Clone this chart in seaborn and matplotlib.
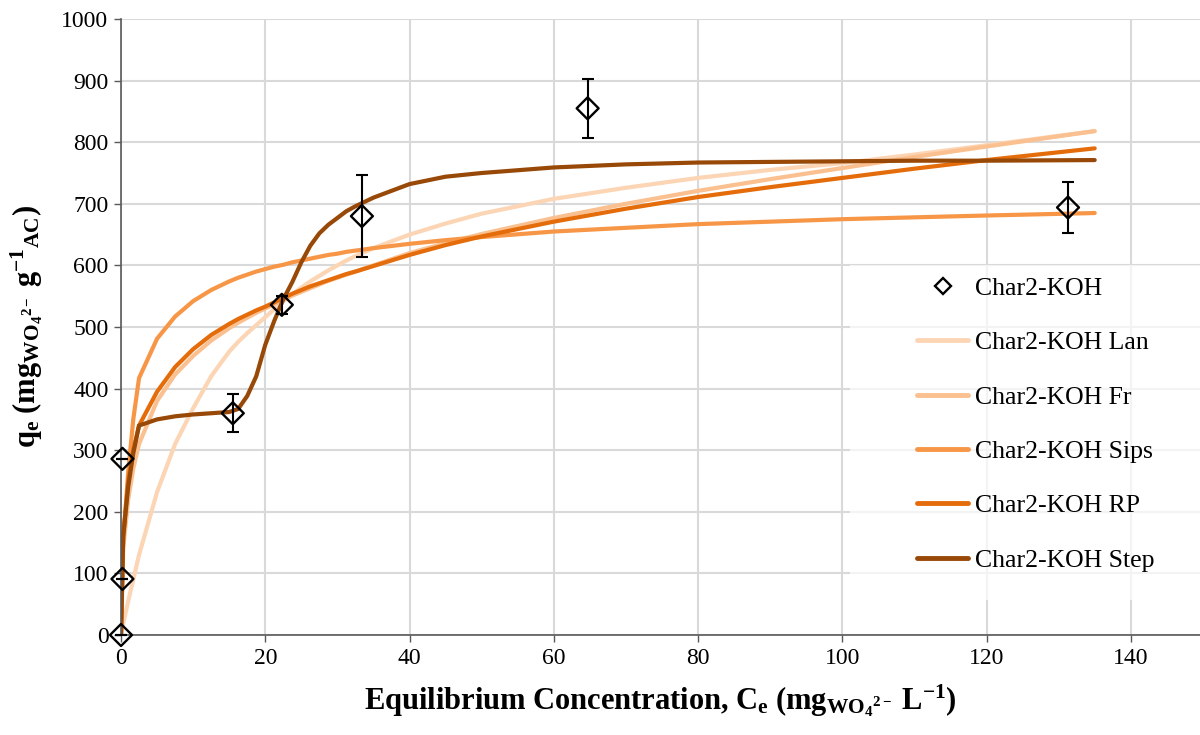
import matplotlib
matplotlib.use("Agg")
import matplotlib.pyplot as plt
from matplotlib.lines import Line2D
from matplotlib.patches import Rectangle
import seaborn as sns
import pandas as pd

# Measured equilibrium data (Char2-KOH)
ce_data = [0.0, 0.2, 0.2, 15.5, 22.3, 33.4, 64.7, 131.3]
qe_data = [0, 91, 286, 360, 536, 680, 855, 694]
qe_err = [0, 0, 0, 31, 15, 67, 48, 41]

# Fitted isotherm curves
ce_fit = [0, 0.3, 1, 1.7, 2.5, 5, 7.5, 10, 12.5, 15, 16.25, 17.5, 18.75, 20, 21.25, 22.5,
          23.75, 25, 26.25, 27.5, 28.75, 30, 31.25, 32.5, 35, 40, 45, 50, 60, 70, 80, 90,
          100, 110, 120, 135]
q_lan = [0, 18, 55, 90, 130, 232, 310, 368, 420, 460, 476, 490, 503, 516, 529, 542,
         553, 564, 574, 583, 592, 600, 608, 615, 628, 650, 668, 684, 708, 726, 742, 755,
         766, 780, 795, 818]
q_fr = [0, 140, 220, 270, 310, 380, 423, 453, 478, 498, 507, 515, 523, 530, 537, 544,
        551, 557, 563, 569, 575, 580, 585, 590, 600, 620, 636, 651, 677, 700, 721, 740,
        758, 776, 793, 818]
q_sips = [0, 150, 265, 350, 417, 481, 517, 542, 560, 574, 580, 585, 590, 594, 598, 601,
          605, 608, 611, 614, 617, 619, 622, 624, 628, 635, 641, 646, 655, 661, 667, 671,
          675, 678, 681, 685]
q_rp = [0, 160, 250, 300, 340, 395, 435, 464, 487, 505, 513, 520, 527, 533, 540, 547,
        554, 560, 566, 571, 576, 581, 586, 590, 599, 617, 633, 647, 671, 692, 711, 727,
        742, 757, 771, 790]
q_step = [0, 160, 241, 295, 340, 350, 355, 358, 360, 362, 367, 388, 420, 471, 510, 545,
          573, 605, 632, 652, 666, 677, 688, 696, 710, 732, 744, 750, 759, 764, 767, 768,
          769, 770, 770, 771]

model_names = ["Char2-KOH Lan", "Char2-KOH Fr", "Char2-KOH Sips", "Char2-KOH RP", "Char2-KOH Step"]
model_colors = ["#fcd5b5", "#fac090", "#f79646", "#e46c0a", "#984807"]
data_label = "Char2-KOH"

x_ticks = [0, 20, 40, 60, 80, 100, 120, 140]
y_ticks = list(range(0, 1001, 100))

sns.set_theme(style="whitegrid")
plt.rcParams["font.family"] = ["Liberation Serif", "DejaVu Serif"]
plt.rcParams["mathtext.fontset"] = "custom"
plt.rcParams["mathtext.rm"] = "Liberation Serif"
plt.rcParams["mathtext.it"] = "Liberation Serif:italic"
plt.rcParams["mathtext.bf"] = "Liberation Serif:bold"
plt.rcParams["text.color"] = "black"
plt.rcParams["axes.labelcolor"] = "black"

fit_df = pd.concat(
    [pd.DataFrame({"Ce": ce_fit, "qe": q, "model": name})
     for name, q in zip(model_names, [q_lan, q_fr, q_sips, q_rp, q_step])],
    ignore_index=True,
)
data_df = pd.DataFrame({"Ce": ce_data, "qe": qe_data, "err": qe_err})

fig = plt.figure(figsize=(12, 7.35), dpi=100)
ax = fig.add_axes([121 / 1200, 100 / 735, 1 - 121 / 1200, (635 - 19) / 735])

sns.lineplot(data=fit_df, x="Ce", y="qe", hue="model", hue_order=model_names,
             palette=model_colors, estimator=None, sort=False, linewidth=3,
             legend=False, ax=ax, zorder=2)

eb = ax.errorbar(data_df["Ce"], data_df["qe"], yerr=data_df["err"], fmt="none",
                 ecolor="black", elinewidth=1.5, capsize=4, capthick=1.5, zorder=3)
for artist in eb.lines[1] + eb.lines[2]:
    artist.set_clip_on(False)
sns.scatterplot(data=data_df, x="Ce", y="qe", marker="D", s=125,
                facecolor="none", edgecolor="black", linewidth=1.7,
                legend=False, ax=ax, zorder=4, clip_on=False)

ax.set_xlim(0, 149.6)
ax.set_ylim(0, 1000)
ax.set_xticks(x_ticks)
ax.set_yticks(y_ticks)
ax.grid(True, color="#d9d9d9", linewidth=1.5)
ax.set_axisbelow(True)
for side in ["top", "right"]:
    ax.spines[side].set_visible(False)
for side in ["left", "bottom"]:
    ax.spines[side].set_visible(True)
    ax.spines[side].set_color("#595959")
    ax.spines[side].set_linewidth(1.2)
ax.tick_params(axis="both", which="major", direction="out", length=5, width=1,
               color="#595959", labelsize=17, labelcolor="black", pad=4,
               bottom=True, left=True)

ax.set_xlabel(r"$\mathbf{Equilibrium\ Concentration{,}\ C_e\ (mg_{WO_4{}^{2-}}\ L^{-1})}$",
              fontsize=22, labelpad=10)
ax.set_ylabel(r"$\mathbf{q_e\ (mg_{WO_4{}^{2-}}\ g^{-1}{}_{AC})}$",
              fontsize=22, labelpad=12)

# Legend backdrop
ax.add_patch(Rectangle((850 / 1200, 1 - 600 / 735), 350 / 1200, 335 / 735,
                       transform=fig.transFigure, facecolor="white", alpha=0.7,
                       edgecolor="none", zorder=1))

handles = [Line2D([], [], linestyle="none", marker="D", markersize=8.5,
                  markerfacecolor="none", markeredgecolor="black", markeredgewidth=1.7)]
handles += [Line2D([], [], color=c, linewidth=3.5) for c in model_colors]
labels = [data_label] + model_names
ax.legend(handles, labels, loc="upper left", bbox_to_anchor=(917 / 1200, 1 - 277 / 735),
          bbox_transform=fig.transFigure, frameon=False, fontsize=18.5,
          handlelength=2.0, handletextpad=0.25, labelspacing=1.22,
          borderpad=0, borderaxespad=0)

fig.savefig("out.png", dpi=100)
